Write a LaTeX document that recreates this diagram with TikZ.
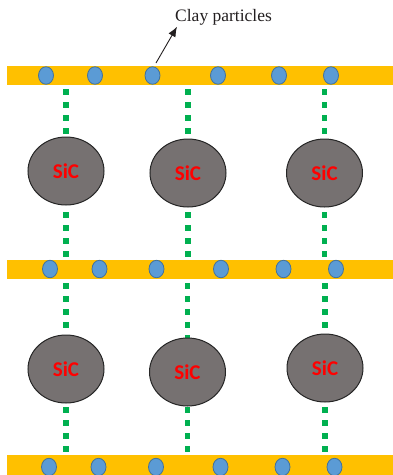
\documentclass[tikz,border=0pt]{standalone}
\usepackage{fontspec}
\setmainfont{Liberation Serif}
\newfontfamily\sicfont{Carlito}
\usetikzlibrary{shapes.geometric,arrows.meta,backgrounds}
\definecolor{barc}{HTML}{FFC000}
\definecolor{partc}{HTML}{5B9BD5}
\definecolor{partd}{HTML}{41719C}
\definecolor{sicfill}{HTML}{767171}
\definecolor{dotc}{HTML}{00B050}
\definecolor{txtc}{HTML}{231F20}
\begin{document}
\begin{tikzpicture}[x=1pt,y=-1pt,
 bar/.style={rectangle,fill=barc,draw=none,minimum width=386pt,minimum height=19pt,inner sep=0pt},
 part/.style={ellipse,fill=partc,draw=partd,line width=0.8pt,minimum width=15pt,minimum height=17.5pt,inner sep=0pt},
 sic/.style={ellipse,fill=sicfill,draw=black!85,line width=1pt,minimum width=76pt,minimum height=68pt,inner sep=0pt,text=red,font=\sicfont\bfseries\fontsize{21}{21}\selectfont},
 gdots/.style={dotc,line width=5.5pt,dash pattern=on 5.5pt off 7.5pt},
 lbl/.style={inner sep=0pt,text=txtc,font=\fontsize{17.5}{17.5}\selectfont},
 pointer/.style={-{Latex[length=10pt,width=8pt]},line width=0.9pt,draw=txtc}
]
\useasboundingbox (0,0) rectangle (393,475);
% bars
\node[bar] (barT) at (200,75.5) {};
\node[bar] (barM) at (200,269.5) {};
\node[bar,minimum height=22pt] (barB) at (200,466) {};
% clay particles
\foreach \x [count=\i] in {46,95,152.5,218,279,331}
  \node[part] (pT\i) at (\x,75.5) {};
\foreach \x [count=\i] in {50,99.5,156.5,221,283.5,336}
  \node[part] (pM\i) at (\x,269) {};
\foreach \x [count=\i] in {49,98.5,156,220.5,282.5,334.5}
  \node[part] (pB\i) at (\x,467) {};
% SiC particles
\node[sic] (s1) at (66,171) {SiC};
\node[sic] (s2) at (188,173) {SiC};
\node[sic] (s3) at (324.5,173) {SiC};
\node[sic] (s4) at (66,369) {SiC};
\node[sic] (s5) at (187.5,372) {SiC};
\node[sic] (s6) at (325,368) {SiC};
% green dotted links
\begin{pgfonlayer}{background}
\foreach \s in {s1,s2,s3}{
  \draw[gdots,dash phase=9pt] (\s |- barT.south) -- (\s.north);
  \draw[gdots,dash phase=10pt] (\s |- barM.north) -- (\s.south);
}
\foreach \s in {s4,s5,s6}{
  \draw[gdots,dash phase=9pt] (\s |- barM.south) -- (\s.north);
  \draw[gdots,dash phase=10pt] (\s |- barB.north) -- (\s.south);
}
\end{pgfonlayer}
% label and arrow
\node[lbl,anchor=base west] (lbl) at (175,21.7) {Clay particles};
\coordinate (a0) at (156,63);
\draw[pointer] (a0) -- ([shift={(2,5)}]lbl.base west);
\end{tikzpicture}
\end{document}
